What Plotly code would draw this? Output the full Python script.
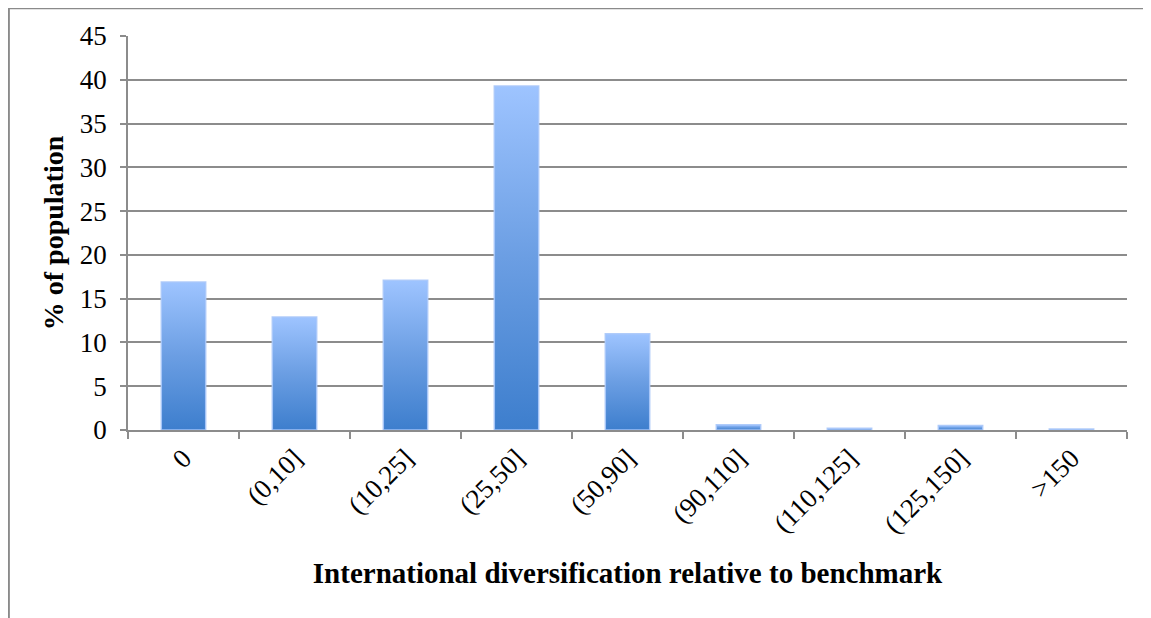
import plotly.graph_objects as go

categories = ["0", "(0,10]", "(10,25]", "(25,50]", "(50,90]",
              "(90,110]", "(110,125]", "(125,150]", ">150"]
values = [16.9, 12.9, 17.1, 39.3, 11.0, 0.6, 0.2, 0.5, 0.1]
y_ticks = [0, 5, 10, 15, 20, 25, 30, 35, 40, 45]

FONT = "Liberation Serif"
GRID = "#8c8c8c"
HALF = 0.2  # half bar width in category units

fig = go.Figure()
for i, (cat, v) in enumerate(zip(categories, values)):
    fig.add_trace(go.Scatter(
        x=[i - HALF, i + HALF, i + HALF, i - HALF, i - HALF],
        y=[0, 0, v, v, 0],
        mode="lines",
        fill="toself",
        fillgradient=dict(type="vertical",
                          colorscale=[[0, "#3d7ecd"], [0.5, "#6b9ee3"], [1, "#9ec4ff"]]),
        line=dict(color="rgba(170,200,250,0.9)", width=1.5),
        hoverinfo="text",
        text=f"{cat}: {v}",
        showlegend=False,
    ))

fig.update_layout(
    width=1143, height=610,
    margin=dict(l=120, r=24, t=28, b=188),
    paper_bgcolor="white", plot_bgcolor="white",
    font=dict(family=FONT, size=27, color="black"),
    showlegend=False,
    xaxis=dict(
        range=[-0.5, len(categories) - 0.5],
        tickmode="array",
        tickvals=list(range(len(categories))),
        ticktext=categories,
        tickangle=-45,
        ticks="",
        showgrid=False,
        zeroline=False,
        showline=True, linecolor=GRID, linewidth=1.5,
        minor=dict(tick0=-0.5, dtick=1, ticks="outside", ticklen=7,
                   tickcolor=GRID, tickwidth=1.5, showgrid=False),
        tickfont=dict(family=FONT, size=27),
        title=dict(text="<b>International diversification relative to benchmark</b>",
                   font=dict(family=FONT, size=29), standoff=24),
    ),
    yaxis=dict(
        range=[0, 45],
        tickmode="array",
        tickvals=y_ticks,
        ticks="outside", ticklen=6, tickcolor=GRID, tickwidth=1.5,
        ticklabelstandoff=8,
        showgrid=True, gridcolor=GRID, gridwidth=1.5,
        zeroline=False,
        showline=True, linecolor=GRID, linewidth=1.5,
        tickfont=dict(family=FONT, size=27),
        title=dict(text="<b>% of population</b>",
                   font=dict(family=FONT, size=28), standoff=8),
    ),
)

# outer chart frame (top and left edges visible)
fig.add_shape(type="line", xref="paper", yref="paper",
              x0=-0.12, x1=1.2, y0=1.0705, y1=1.0705,
              line=dict(color="#8a8a8a", width=2))
fig.add_shape(type="line", xref="paper", yref="paper",
              x0=-0.1195, x1=-0.1195, y0=1.0705, y1=-0.6,
              line=dict(color="#8a8a8a", width=2.5))

fig.write_html("out.html")
